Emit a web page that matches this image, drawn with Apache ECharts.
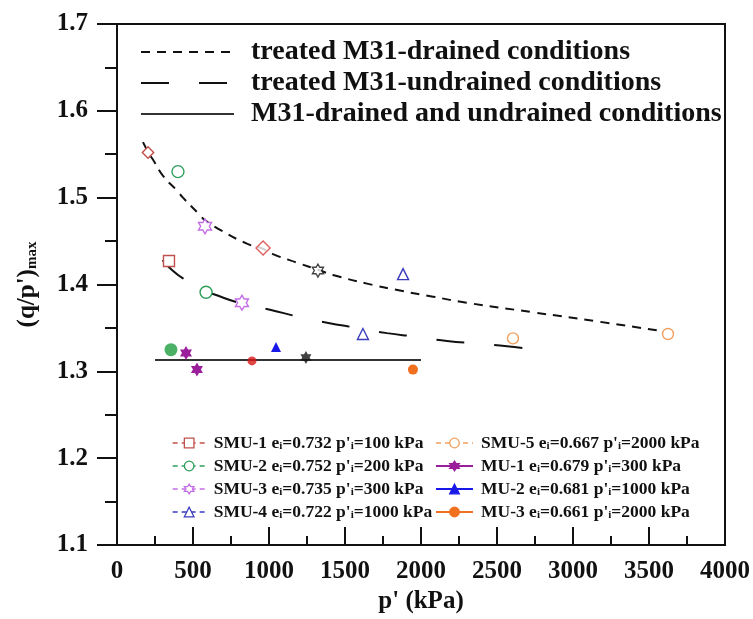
<!DOCTYPE html>
<html><head><meta charset="utf-8">
<script src="https://cdn.jsdelivr.net/npm/echarts@6/dist/echarts.min.js"></script>
<style>html,body{margin:0;padding:0;background:#fff}#c{width:753px;height:619px}</style>
</head><body><div id="c"></div>
<script>
// ---- axes ----
const xTickLabels = [0, 500, 1000, 1500, 2000, 2500, 3000, 3500, 4000];
const yTickLabels = [1.1, 1.2, 1.3, 1.4, 1.5, 1.6, 1.7];

// ---- fitted curves ----
const drainedCurveP = [171, 204, 250, 303, 401, 434, 546, 579, 678, 855, 961, 1026, 1204, 1322, 1421, 1645, 1862, 2079, 2300, 2737, 3178, 3560];
const drainedCurveQ = [1.564, 1.553, 1.540, 1.525, 1.507, 1.500, 1.480, 1.474, 1.463, 1.447, 1.441, 1.435, 1.424, 1.417, 1.411, 1.401, 1.393, 1.386, 1.379, 1.368, 1.357, 1.347];
const undrainedCurveP = [300, 342, 434, 586, 632, 822, 1007, 1191, 1382, 1579, 1776, 1960, 2171, 2368, 2566, 2700];
const undrainedCurveQ = [1.428, 1.420, 1.407, 1.392, 1.389, 1.378, 1.371, 1.363, 1.356, 1.350, 1.344, 1.340, 1.335, 1.332, 1.329, 1.326];
const m31LineP = [250, 2000];
const m31LineQ = [1.313, 1.313];

// ---- test points [p', (q/p')max] ----
const smu1 = [[204, 1.552], [342, 1.427]];
const smu2 = [[401, 1.530], [586, 1.391]];
const smu3 = [[579, 1.467], [822, 1.379]];
const smu4 = [[1882, 1.412], [1618, 1.343]];
const smu5 = [[3625, 1.343], [2605, 1.338]];
const mu1 = [[454, 1.321], [526, 1.302]];
const mu2 = [[1046, 1.328]];
const mu3 = [[1947, 1.302]];
const otherRedHollow = [[961, 1.442]];
const otherBlackHollow = [[1322, 1.416]];
const otherGreenFilled = [[355, 1.325]];
const otherRedFilled = [[888, 1.312]];
const otherBlackFilled = [[1243, 1.316]];

const curveNames = ['treated M31-drained conditions', 'treated M31-undrained conditions', 'M31-drained and undrained conditions'];
const legendLeftNames = ["SMU-1 e_i=0.732 p'_i=100 kPa", "SMU-2 e_i=0.752 p'_i=200 kPa", "SMU-3 e_i=0.735 p'_i=300 kPa", "SMU-4 e_i=0.722 p'_i=1000 kPa"];
const legendRightNames = ["SMU-5 e_i=0.667 p'_i=2000 kPa", "MU-1 e_i=0.679 p'_i=300 kPa", "MU-2 e_i=0.681 p'_i=1000 kPa", "MU-3 e_i=0.661 p'_i=2000 kPa"];

const HEX = 'path://M0,-10L2.887,-5L8.66,-5L5.774,0L8.66,5L2.887,5L0,10L-2.887,5L-8.66,5L-5.774,0L-8.66,-5L-2.887,-5Z';
const FONT = 'Liberation Serif';

const zip = (a, b) => a.map((v, i) => [v, b[i]]);

function pointSeries(name, data, color, symbol, size, hollow, dashed) {
  return {
    name, type: 'line', data, symbol, symbolSize: size, showSymbol: true,
    color,
    z: 5,
    lineStyle: { color, width: dashed ? 1.3 : 2, type: dashed ? [5, 4] : 'solid', opacity: 0 },
    itemStyle: hollow ? { color: '#fff', borderColor: color, borderWidth: 1.4 } : { color, borderColor: color, borderWidth: 0 },
    emphasis: { disabled: true },
    animation: false
  };
}
function extraSeries(data, color, symbol, size, hollow) {
  return {
    type: 'scatter', data, symbol, symbolSize: size, z: 5,
    itemStyle: hollow ? { color: '#fff', borderColor: color, borderWidth: 1.4 } : { color },
    animation: false
  };
}

const smu1Data = [{ value: smu1[0], symbol: 'rect', symbolRotate: 45, symbolSize: 8 }, { value: smu1[1] }];

const series = [
  { name: curveNames[0], type: 'line', data: zip(drainedCurveP, drainedCurveQ), smooth: true, symbol: 'none', z: 2,
    lineStyle: { color: '#111', width: 2, type: [9, 7] }, color: '#111', animation: false },
  { name: curveNames[1], type: 'line', data: zip(undrainedCurveP, undrainedCurveQ), smooth: true, symbol: 'none', z: 2,
    lineStyle: { color: '#111', width: 2, type: [28, 30] }, color: '#111', animation: false },
  { name: curveNames[2], type: 'line', data: zip(m31LineP, m31LineQ), symbol: 'none', z: 2,
    lineStyle: { color: '#333', width: 2, type: 'solid' }, color: '#333', animation: false },
  pointSeries(legendLeftNames[0], smu1Data, '#c0504d', 'rect', 11, true, true),
  pointSeries(legendLeftNames[1], smu2, '#2e9e5b', 'circle', 12, true, true),
  pointSeries(legendLeftNames[2], smu3, '#c46ee6', HEX, [13, 15], true, true),
  pointSeries(legendLeftNames[3], smu4, '#3b3bbf', 'triangle', 11, true, true),
  pointSeries(legendRightNames[0], smu5, '#f0a060', 'circle', 11, true, true),
  pointSeries(legendRightNames[1], mu1, '#9b1f9b', HEX, [12, 14], false, false),
  pointSeries(legendRightNames[2], mu2, '#1818e8', 'triangle', 10, false, false),
  pointSeries(legendRightNames[3], mu3, '#f07020', 'circle', 10, false, false),
  extraSeries(otherRedHollow, '#d63a3a', 'rect', [10, 10], true),
  extraSeries(otherBlackHollow, '#111', HEX, [11, 13], true),
  extraSeries(otherGreenFilled, '#1e9e3e', 'circle', 13, false),
  extraSeries(otherRedFilled, '#d81818', 'circle', 9, false),
  extraSeries(otherBlackFilled, '#111', HEX, [11, 13], false)
];
series[11].data = [{ value: otherRedHollow[0], symbolRotate: 45 }];

const subFmt = n => n.replace(/_i/g, '{s|i}');
const smallText = {
  fontFamily: FONT, fontWeight: 'bold', fontSize: 17.5, color: '#111', lineHeight: 18, padding: [0, 0, 0, 3],
  rich: { s: { fontFamily: FONT, fontWeight: 'bold', fontSize: 11, lineHeight: 9, verticalAlign: 'bottom', color: '#111' } }
};
function bottomLegend(names, left, width, dashedFlags, colors) {
  return {
    orient: 'vertical', left, top: 434, padding: 0, itemWidth: width, itemHeight: 12, itemGap: 5,
    selectedMode: false, formatter: subFmt, textStyle: smallText,
    itemStyle: { borderWidth: 1.3 },
    data: names.map((n, i) => ({ name: n, lineStyle: { opacity: 1, width: dashedFlags[i] ? 1.3 : 2, type: dashedFlags[i] ? [5, 4] : 'solid', color: colors[i] } }))
  };
}

const option = {
  backgroundColor: '#fff',
  animation: false,
  grid: { left: 117, right: 28, top: 24, bottom: 65, show: true, borderColor: '#111', borderWidth: 2, backgroundColor: 'transparent' },
  legend: [
    { orient: 'vertical', left: 140, top: 38, padding: 0, itemWidth: 93, itemHeight: 14, itemGap: 3,
      selectedMode: false,
      itemStyle: { opacity: 0, color: 'transparent', borderColor: 'transparent' },
      data: curveNames.map(n => ({ name: n, lineStyle: { opacity: 1, width: 2 }, itemStyle: { opacity: 0, color: 'transparent', borderColor: 'transparent' } })),
      textStyle: { fontFamily: FONT, fontWeight: 'bold', fontSize: 28, color: '#111', lineHeight: 28, padding: [0, 0, 0, 12] } },
    bottomLegend(legendLeftNames, 172, 33, [true, true, true, true], ['#c0504d', '#2e9e5b', '#c46ee6', '#3b3bbf']),
    bottomLegend(legendRightNames, 435, 37, [true, false, false, false], ['#f0a060', '#9b1f9b', '#1818e8', '#f07020'])
  ],
  xAxis: {
    type: 'value', min: xTickLabels[0], max: xTickLabels[xTickLabels.length - 1], interval: 500,
    name: "p' (kPa)", nameLocation: 'middle', nameGap: 44,
    nameTextStyle: { fontFamily: FONT, fontWeight: 'bold', fontSize: 25, color: '#111' },
    axisLine: { show: true, lineStyle: { color: '#111', width: 2 } },
    axisTick: { show: true, inside: true, length: 18, lineStyle: { color: '#111', width: 2 } },
    minorTick: { show: true, splitNumber: 2, length: 9, lineStyle: { color: '#111', width: 2 } },
    splitLine: { show: false },
    axisLabel: { fontFamily: FONT, fontWeight: 'bold', fontSize: 25, color: '#111', margin: 14, formatter: v => String(v) }
  },
  yAxis: {
    type: 'value', min: yTickLabels[0], max: yTickLabels[yTickLabels.length - 1], interval: 0.1,
    name: "(q/p'){s|max}", nameLocation: 'middle', nameGap: 77, nameRotate: 90,
    nameTextStyle: { fontFamily: FONT, fontWeight: 'bold', fontSize: 25, color: '#111',
      rich: { s: { fontFamily: FONT, fontWeight: 'bold', fontSize: 15, color: '#111', verticalAlign: 'bottom', lineHeight: 12 } } },
    axisLine: { show: true, lineStyle: { color: '#111', width: 2 } },
    axisTick: { show: true, inside: false, length: 20, lineStyle: { color: '#111', width: 2 } },
    minorTick: { show: true, splitNumber: 2, length: 12, lineStyle: { color: '#111', width: 2 } },
    splitLine: { show: false },
    axisLabel: { fontFamily: FONT, fontWeight: 'bold', fontSize: 25, color: '#111', margin: 29, formatter: v => v.toFixed(1) }
  },
  series
};
const chart = echarts.init(document.getElementById('c'), null, { renderer: 'canvas' });
chart.setOption(option);
</script></body></html>
